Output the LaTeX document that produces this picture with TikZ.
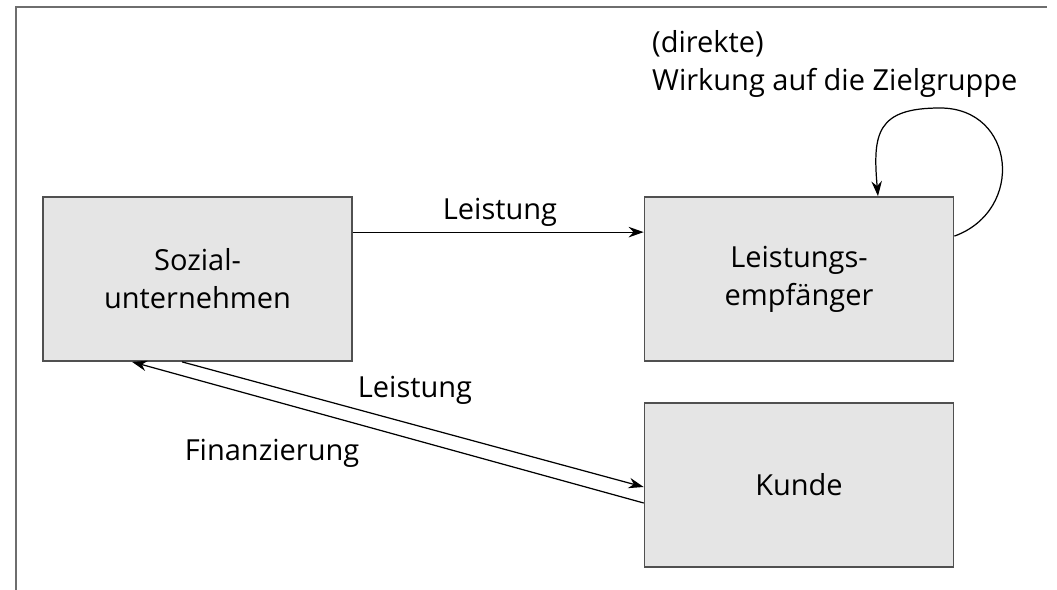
\documentclass[tikz,border=0pt]{standalone}
\usepackage{fontspec}
\setmainfont{Open Sans}
\usetikzlibrary{arrows.meta}

\definecolor{boxgray}{HTML}{E5E5E5}
\definecolor{linegray}{HTML}{505050}
\definecolor{framegray}{HTML}{6E6E6E}

\tikzset{
  block/.style={draw=linegray, fill=boxgray, line width=1pt,
    minimum width=6.18cm, minimum height=3.28cm, align=center, inner sep=0pt},
  flow/.style={line width=0.7pt, -{Stealth[length=0.3cm,width=0.21cm]}},
  every node/.style={font=\fontsize{16.5}{21.6}\selectfont}
}

\begin{document}
\begin{tikzpicture}[x=0.02cm,y=-0.02cm]

\useasboundingbox (0,0) rectangle (1057,590);

% frame, open on the right and at the bottom
\draw[framegray, line width=1.6pt] (16,590)--(16,7)--(1047,7);

\node [block] (soz) at (197.5,279) {Sozial-\\unternehmen};
\node [block] (emp) at (799,279) {Leistungs-\\empfänger};
\node [block] (kunde) at (799,485) {Kunde};

\node (lbltop) at (500,212) {Leistung};
\node (lblleist) at (415,390) {Leistung};
\node (lblfin) at (272,453) {Finanzierung};
\node [anchor=west, align=left] (lblwirk) at (646,64) {(direkte)\\Wirkung auf die Zielgruppe};

\draw[flow] ([yshift=-0.72cm]soz.north east)--([yshift=-0.72cm]emp.north west);

% loop back onto the target group
\coordinate (looptop) at (940,108);
\draw[flow] ([yshift=-0.8cm]emp.north east) to[out=20,in=0,looseness=1.5] (looptop)
  to[out=180,in=95,looseness=1.5] ([xshift=1.58cm]emp.north);

\draw[flow] ([xshift=-0.31cm]soz.south)--([yshift=-0.04cm]kunde.west);
\draw[flow] ([yshift=-0.36cm]kunde.west)--([xshift=-1.31cm]soz.south);

\end{tikzpicture}
\end{document}
